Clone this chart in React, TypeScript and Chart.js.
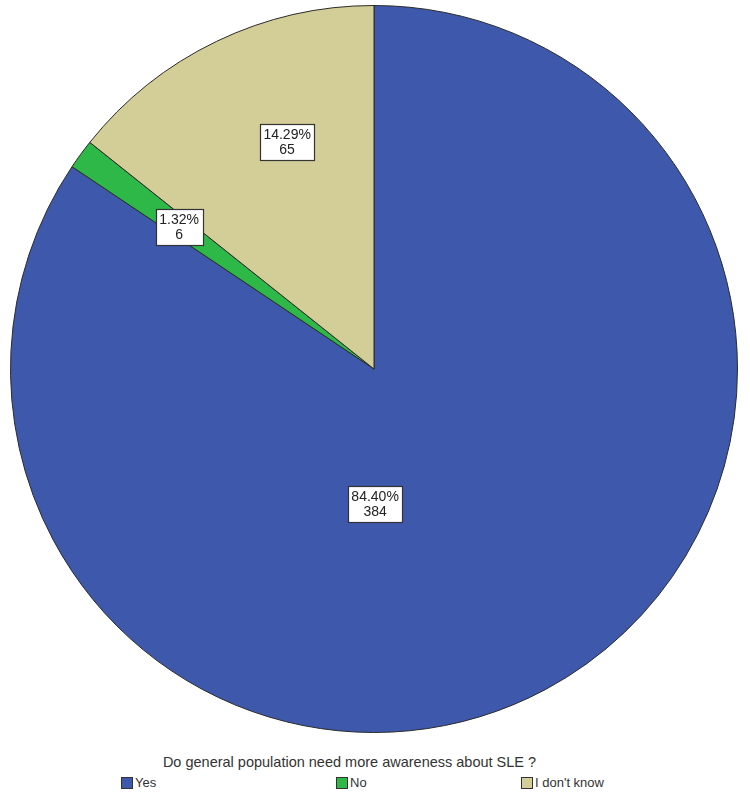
import React, { useEffect, useRef } from "react";
import { Chart, registerables } from "chart.js";

Chart.register(...registerables);

const categories = ["Yes", "No", "I don't know"];
const counts = [384, 6, 65];
const percents = ["84.40%", "1.32%", "14.29%"];
const colors = ["#3E58AC", "#2EB848", "#D3CE97"];
const title = "Do general population need more awareness about SLE ?";
// label anchor offsets from pie centre, as fractions of the radius
const labelOffsets = [
  [0.003, 0.371],
  [-0.536, -0.391],
  [-0.239, -0.624],
];

const FONT = "'Liberation Sans', Arial, sans-serif";

const boxLabels = {
  id: "boxLabels",
  afterDatasetsDraw(chart: any) {
    const meta = chart.getDatasetMeta(0);
    const ctx = chart.ctx;
    const arc0 = meta.data[0];
    if (!arc0) return;
    const cx = arc0.x;
    const cy = arc0.y;
    const r = arc0.outerRadius;
    ctx.save();
    ctx.font = `14px ${FONT}`;
    ctx.textAlign = "center";
    ctx.textBaseline = "middle";
    meta.data.forEach((_: any, i: number) => {
      const x = cx + labelOffsets[i][0] * r;
      const y = cy + labelOffsets[i][1] * r;
      const l1 = percents[i];
      const l2 = String(counts[i]);
      const w = Math.round(Math.max(ctx.measureText(l1).width, ctx.measureText(l2).width) + 7);
      const h = 36;
      const bx = Math.round(x - w / 2) + 0.5;
      const by = Math.round(y - h / 2) + 0.5;
      ctx.fillStyle = "#ffffff";
      ctx.fillRect(bx, by, w, h);
      ctx.strokeStyle = "#333333";
      ctx.lineWidth = 1.2;
      ctx.strokeRect(bx, by, w, h);
      ctx.fillStyle = "#222222";
      ctx.fillText(l1, x, y - 7);
      ctx.fillText(l2, x, y + 8);
    });
    ctx.restore();
  },
};

export default function App() {
  const ref = useRef<HTMLCanvasElement>(null);
  useEffect(() => {
    if (!ref.current) return;
    const chart = new Chart(ref.current, {
      type: "pie",
      data: {
        labels: categories,
        datasets: [
          {
            data: counts,
            backgroundColor: colors,
            borderColor: "#2a2a2a",
            borderWidth: 1,
          },
        ],
      },
      options: {
        animation: false,
        responsive: false,
        maintainAspectRatio: false,
        layout: { padding: { left: 10, right: 12, top: 5, bottom: 7 } },
        plugins: {
          legend: { display: false },
          tooltip: { enabled: false },
          title: { display: false },
        },
      },
      plugins: [boxLabels],
    });
    return () => chart.destroy();
  }, []);

  const legendX = [121, 336, 521];
  return (
    <div
      style={{
        position: "fixed",
        left: 0,
        top: 0,
        width: 750,
        height: 804,
        background: "#ffffff",
        fontFamily: FONT,
        color: "#333333",
      }}
    >
      <canvas ref={ref} width={750} height={740} style={{ position: "absolute", left: 0, top: 0 }} />
      <div
        style={{
          position: "absolute",
          left: 0,
          width: 699,
          top: 754,
          textAlign: "center",
          fontSize: 14.5,
          lineHeight: "16px",
          whiteSpace: "nowrap",
        }}
      >
        {title}
      </div>
      {categories.map((c, i) => (
        <div
          key={c}
          style={{
            position: "absolute",
            left: legendX[i],
            top: 776,
            display: "flex",
            alignItems: "center",
            fontSize: 13,
            lineHeight: "14px",
            whiteSpace: "nowrap",
          }}
        >
          <span
            style={{
              display: "inline-block",
              width: 10,
              height: 10,
              background: colors[i],
              border: "1px solid #333",
              marginRight: 2,
            }}
          />
          {c}
        </div>
      ))}
    </div>
  );
}
